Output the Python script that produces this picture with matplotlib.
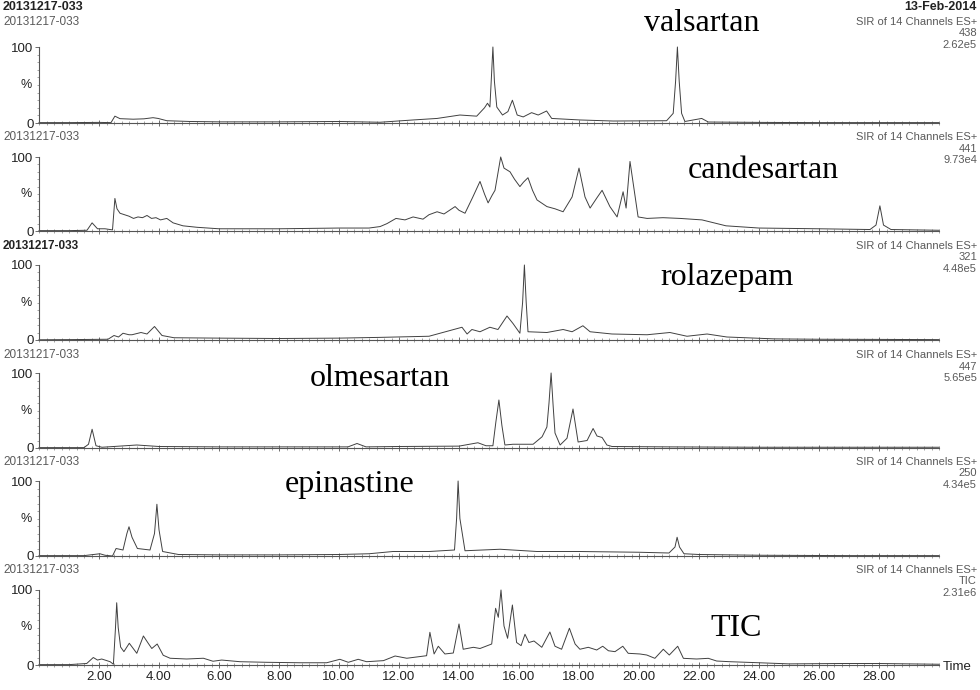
import matplotlib
matplotlib.use("Agg")
import matplotlib.pyplot as plt
from matplotlib.ticker import MultipleLocator, FixedLocator

# ---------------- data ----------------
sample_id = "20131217-033"
run_date = "13-Feb-2014"
channel_title = "SIR of 14 Channels ES+"
compounds = ["valsartan", "candesartan", "rolazepam", "olmesartan", "epinastine", "TIC"]
channels = ["438", "441", "321", "447", "250", "TIC"]
scales = ["2.62e5", "9.73e4", "4.48e5", "5.65e5", "4.34e5", "2.31e6"]
x_ticks = [2, 4, 6, 8, 10, 12, 14, 16, 18, 20, 22, 24, 26, 28]
x_tick_labels = ["2.00", "4.00", "6.00", "8.00", "10.00", "12.00", "14.00",
                 "16.00", "18.00", "20.00", "22.00", "24.00", "26.00", "28.00"]

t_valsartan = [0.0, 1.0, 2.0, 2.4, 2.53, 2.7, 3.14, 3.5, 3.8, 3.97, 4.26, 5.03, 6.0, 8.0,
               10.0, 11.37, 12.47, 13.27, 14.03, 14.59, 14.85, 14.95, 15.03, 15.08, 15.13,
               15.18, 15.26, 15.45, 15.63, 15.78, 15.94, 16.14, 16.42, 16.64, 16.92, 17.09,
               18.03, 19.14, 20.92, 21.14, 21.22, 21.28, 21.34, 21.42, 21.53, 22.09, 22.31,
               24.0, 26.0, 28.0, 30.0]
v_valsartan = [0.5, 0.5, 0.8, 0.5, 9, 5.7, 5, 5.5, 7, 6, 3, 2, 1.5, 1.5,
               2, 1, 4, 6, 10.5, 9, 20, 26, 21, 60, 100,
               55, 21, 10.5, 15, 30, 10.5, 8, 13.6, 10.5, 15.8, 6,
               4, 2.6, 3, 12.7, 55, 100, 55, 12.7, 2, 6, 1.3,
               0.8, 0.5, 0.5, 0.5]

t_candesartan = [0, 1.0, 1.6, 1.77, 1.95, 2.2, 2.45, 2.53, 2.6, 2.7, 2.85, 3.0, 3.15, 3.3,
                 3.45, 3.6, 3.75, 3.9, 4.05, 4.26, 4.47, 4.8, 5.27, 6.0, 8.0, 10.0, 11.0,
                 11.37, 11.6, 11.9, 12.2, 12.47, 12.8, 13.0, 13.27, 13.5, 13.87, 14.0,
                 14.2, 14.45, 14.7, 14.85, 14.97, 15.1, 15.2, 15.39, 15.5, 15.7, 15.85,
                 16.03, 16.15, 16.3, 16.45, 16.6, 16.93, 17.2, 17.47, 17.77, 18.0, 18.2,
                 18.37, 18.6, 18.77, 19.03, 19.27, 19.47, 19.57, 19.7, 19.97, 20.27, 20.8,
                 21.37, 22.1, 22.9, 24.0, 26.0, 27.7, 27.9, 28.03, 28.15, 28.4, 30]
v_candesartan = [0.5, 0.5, 1, 11, 3, 3, 1.5, 44, 30, 24, 22, 20, 17, 19,
                 18, 21, 17, 18, 15, 17, 11, 7, 5, 3, 3, 4, 4,
                 6, 10, 17, 15, 19, 16, 22, 26, 23, 33, 28,
                 24, 45, 67, 50, 38, 48, 55, 100, 85, 80, 70,
                 60, 66, 72, 55, 42, 33, 30, 26, 46, 85, 46,
                 31, 45, 55, 33, 19, 53, 31, 94, 19, 17, 18,
                 17, 15, 7, 4, 3, 2, 8, 34, 8, 2, 1]

t_rolazepam = [0, 1.0, 2.3, 2.5, 2.65, 2.8, 3.0, 3.1, 3.4, 3.6, 3.85, 4.1, 4.5, 6.0, 8.0,
               10.0, 11.37, 13.0, 14.1, 14.27, 14.43, 14.7, 15.03, 15.3, 15.6, 15.8, 16.03,
               16.12, 16.18, 16.24, 16.3, 16.93, 17.47, 17.77, 18.13, 18.37, 19.1, 20.27,
               21.03, 21.6, 22.27, 22.93, 24.5, 26.0, 28.0, 30]
v_rolazepam = [0.3, 0.5, 1, 6, 4, 9, 7, 7, 10, 8, 18, 6, 3, 2.5, 2,
               2.5, 3.5, 5, 17, 8, 14, 11, 17, 14, 32, 22, 9,
               50, 100, 50, 11, 10, 14, 11, 19, 11, 8, 7,
               10, 5, 8, 4, 1.5, 1, 0.8, 0.5]

t_olmesartan = [0, 1.5, 1.65, 1.77, 1.9, 2.1, 3.26, 4.0, 6.0, 8.0, 10.3, 10.6, 10.9, 12.0,
                14.0, 14.63, 14.9, 15.13, 15.23, 15.33, 15.43, 15.53, 15.8, 16.47, 16.77,
                16.93, 17.0, 17.07, 17.14, 17.2, 17.37, 17.6, 17.8, 17.97, 18.27, 18.47,
                18.6, 18.77, 18.93, 19.1, 21, 24, 27, 30]
v_olmesartan = [0.5, 0.5, 5, 25, 3, 1, 4, 2, 1.5, 1.5, 1.5, 6, 1.5, 2,
                2.5, 7, 3, 3, 35, 64, 30, 4, 5, 5, 15,
                28, 60, 100, 55, 20, 4, 13, 52, 8, 10, 26,
                16, 14, 4, 2, 1.5, 1, 1, 1]

t_epinastine = [0, 1.5, 2.03, 2.2, 2.45, 2.57, 2.8, 2.93, 3.0, 3.1, 3.28, 3.7, 3.85, 3.93,
                4.0, 4.12, 4.65, 6, 8, 10, 11.0, 11.8, 13.0, 13.85, 13.92, 13.97, 14.03,
                14.2, 15.37, 16.6, 18.0, 20.0, 21.0, 21.2, 21.27, 21.35, 21.5, 22.0, 24,
                27, 30]
v_epinastine = [0.5, 0.5, 3, 1, 0, 10, 8, 30, 39, 25, 10, 8, 30, 69,
                35, 6, 2, 1.5, 1.5, 2, 3, 6, 6, 8, 50, 100, 50,
                7, 9, 6, 6, 5, 4, 12, 25, 12, 3, 2, 1,
                0.5, 0.5]

t_tic = [0, 1.0, 1.59, 1.81, 1.95, 2.09, 2.37, 2.48, 2.55, 2.59, 2.64, 2.72, 2.83, 3.01,
         3.26, 3.48, 3.64, 3.76, 3.94, 4.14, 4.37, 4.92, 5.48, 5.8, 6.09, 6.7, 7.59, 8.7,
         9.59, 10.03, 10.31, 10.64, 10.92, 11.48, 11.87, 12.26, 12.92, 13.03, 13.17, 13.31,
         13.53, 13.81, 14.0, 14.14, 14.48, 14.7, 15.09, 15.22, 15.31, 15.4, 15.5, 15.62,
         15.78, 15.92, 16.07, 16.2, 16.33, 16.5, 16.76, 17.03, 17.2, 17.42, 17.68, 17.87,
         18.03, 18.31, 18.59, 18.79, 18.98, 19.2, 19.46, 19.64, 20.03, 20.26, 20.53, 20.81,
         21.01, 21.29, 21.48, 21.92, 22.31, 22.59, 23.03, 24.0, 25.0, 26.8, 28.0, 30]
v_tic = [0.5, 0.5, 2, 10, 6.6, 8, 4.4, 1, 50, 83, 50, 24, 17.8, 29,
         15.6, 38.7, 29, 22, 28, 13, 9, 8, 9, 5, 6.6, 4.4, 3.6, 3,
         3, 7.6, 3.6, 7.6, 4.4, 5.8, 12, 9, 12.4, 43.6, 14.7, 25,
         14.7, 16, 54.7, 21, 23.6, 22, 28, 75.6, 63.6, 100, 52, 35.6,
         80, 30, 25.8, 41, 30, 32, 23.6, 44, 25, 21, 49, 28,
         21, 23.6, 20, 25, 19, 17.8, 25, 15.6, 14.7, 13.3, 8.9, 21,
         13.3, 25, 8.9, 8, 8.9, 5.3, 4.4, 3, 1.5, 2, 2, 1]

traces = [(t_valsartan, v_valsartan), (t_candesartan, v_candesartan),
          (t_rolazepam, v_rolazepam), (t_olmesartan, v_olmesartan),
          (t_epinastine, v_epinastine), (t_tic, v_tic)]

# ---------------- layout ----------------
W, H = 980, 690
fig = plt.figure(figsize=(W / 100, H / 100), dpi=100)
fig.patch.set_facecolor("white")

panel_top = [47, 157, 265, 373, 481, 590]      # pixel y of 100 %
panel_bot = [123, 231, 340, 448, 556, 665]     # pixel y of 0 %
header_y = [22, 137, 246, 355, 462, 570]
header_bold = [False, False, True, False, False, False]
ann_pos = [(702, 31), (763, 178), (727, 285), (380, 386), (350, 492), (736, 636)]
x_left, x_right = 39, 939

sans = ["Liberation Sans", "DejaVu Sans"]
serif = ["Liberation Serif", "DejaVu Serif"]
grey = "#5a5a5a"
line_col = "#404040"


def fx(px):
    return px / W


def fy(py):
    return 1 - py / H


fig.text(fx(3), fy(7), sample_id, fontsize=9, fontweight="bold", family=sans,
         ha="left", va="center", color="#222222")
fig.text(fx(977), fy(7), run_date, fontsize=9, fontweight="bold", family=sans,
         ha="right", va="center", color="#222222")

for i, (t, v) in enumerate(traces):
    ax = fig.add_axes([fx(x_left), fy(panel_bot[i]), (x_right - x_left) / W,
                       (panel_bot[i] - panel_top[i]) / H])
    ax.plot(t, v, color=line_col, lw=0.7, clip_on=False)
    ax.set_xlim(0, 30)
    ax.set_ylim(0, 100)
    for s in ("top", "right"):
        ax.spines[s].set_visible(False)
    for s in ("left", "bottom"):
        ax.spines[s].set_color("#555555")
        ax.spines[s].set_linewidth(0.8)
    ax.xaxis.set_major_locator(FixedLocator(x_ticks))
    ax.xaxis.set_minor_locator(MultipleLocator(0.25))
    ax.yaxis.set_major_locator(FixedLocator([0, 100]))
    ax.yaxis.set_minor_locator(MultipleLocator(10))
    ax.tick_params(axis="x", which="major", direction="inout", length=5, width=0.6,
                   color="#555555")
    ax.tick_params(axis="x", which="minor", direction="inout", length=2.5, width=0.5,
                   color="#808080")
    ax.tick_params(axis="y", which="major", direction="out", length=3, width=0.6,
                   color="#555555", labelsize=9.5, pad=1)
    ax.tick_params(axis="y", which="minor", direction="out", length=1.5, width=0.5,
                   color="#808080")
    ax.set_yticklabels(["0", "100"], family=sans, color="#222222")
    if i == len(traces) - 1:
        ax.set_xticklabels(x_tick_labels, family=sans, fontsize=9.5, color="#222222")
        ax.tick_params(axis="x", which="major", pad=2)
        fig.text(fx(943), fy(667), "Time", fontsize=9.5, family=sans, ha="left",
                 va="center", color="#222222")
    else:
        ax.set_xticklabels([])
    ax.text(-0.008, 0.5, "%", transform=ax.transAxes, fontsize=9, family=sans,
            ha="right", va="center", color="#222222")
    ax.patch.set_alpha(0)

    # headers
    fig.text(fx(3), fy(header_y[i]), sample_id, fontsize=8.5, family=sans,
             fontweight="bold" if header_bold[i] else "normal",
             color="#222222" if header_bold[i] else grey, ha="left", va="center")
    fig.text(fx(977), fy(header_y[i]), channel_title, fontsize=8, family=sans,
             color=grey, ha="right", va="center")
    fig.text(fx(977), fy(header_y[i] + 11.5), channels[i], fontsize=8, family=sans,
             color=grey, ha="right", va="center")
    fig.text(fx(977), fy(header_y[i] + 23), scales[i], fontsize=8, family=sans,
             color=grey, ha="right", va="center")

    # compound annotation
    ax_, ay_ = ann_pos[i]
    fig.text(fx(ax_), fy(ay_), compounds[i], fontsize=23, family=serif,
             ha="center", va="baseline", color="black")

fig.savefig("out.png", dpi=100, facecolor="white")
